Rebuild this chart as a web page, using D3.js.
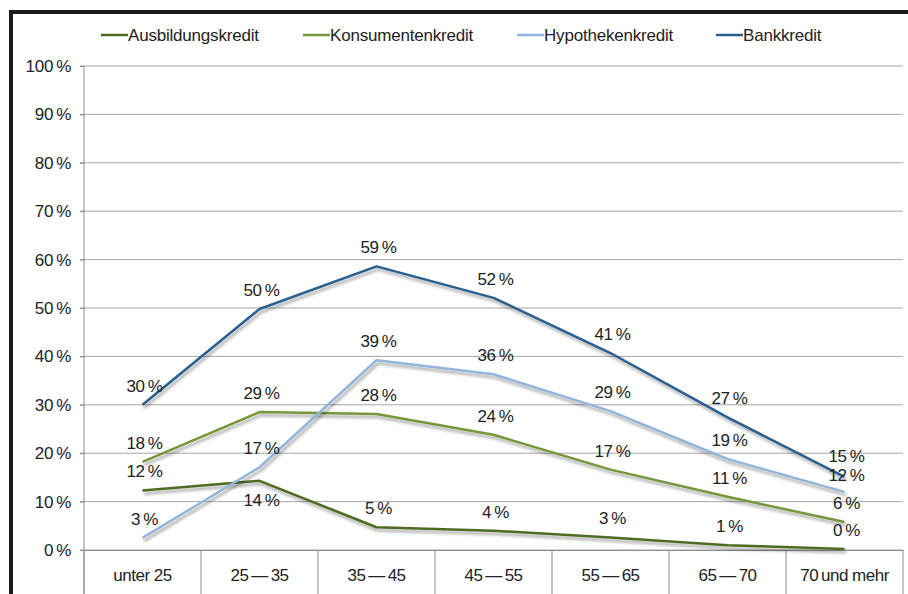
<!DOCTYPE html>
<html>
<head>
<meta charset="utf-8">
<script src="https://cdn.jsdelivr.net/npm/d3@7"></script>
<style>
  html, body { margin: 0; background: #fff; overflow: hidden; }
  svg { display: block; }
  text { font-family: "Liberation Sans", Arial, sans-serif; fill: #222; }
</style>
</head>
<body>
<svg id="canvas"></svg>
<script>
let width = 908,
height = 594

// data
let categories = ['unter 25', '25\u2009\u2014\u200935', '35\u2009\u2014\u200945', '45\u2009\u2014\u200955', '55\u2009\u2014\u200965', '65\u2009\u2014\u200970', '70\u2009und mehr']
let seriesNames = ['Ausbildungskredit', 'Konsumentenkredit', 'Hypothekenkredit', 'Bankkredit']
let ausbildung = [12.3, 14.3, 4.7, 4.0, 2.6, 1.0, 0.2]
let konsument = [18.2, 28.5, 28.1, 23.8, 16.6, 11.0, 5.8]
let hypothek = [2.5, 17.1, 39.2, 36.3, 28.7, 18.8, 12.0]
let bank = [30.0, 49.8, 58.6, 52.1, 40.7, 27.4, 15.1]
let yTicks = [0, 10, 20, 30, 40, 50, 60, 70, 80, 90, 100]
let colors = ['#4f6a22', '#77963a', '#93b5d9', '#2a5e8f']

let allSeries = [ausbildung, konsument, hypothek, bank]

let fontSize = '17px'

let canvas = d3.select('#canvas')
.attr('width', width)
.attr('height', height)

let defs = canvas.append('defs')
let shadow = defs.append('filter').attr('id', 'shadow')
.attr('x', '-10%').attr('y', '-10%').attr('width', '120%').attr('height', '130%')
shadow.append('feDropShadow')
.attr('dx', 1.5).attr('dy', 3).attr('stdDeviation', 1.6)
.attr('flood-color', '#000').attr('flood-opacity', 0.35)

// outer frame, only left and top edges are in view
canvas.append('path')
.attr('d', 'M11,600V12H920')
.attr('fill', 'none')
.attr('stroke', '#1a1a1a')
.attr('stroke-width', 4)

let x = d3.scaleBand().domain(categories).range([84, 903])
let y = d3.scaleLinear().domain([0, 100]).range([550, 66])

// grid
canvas.append('g')
.selectAll('line')
.data(yTicks)
.join('line')
.attr('x1', 80).attr('x2', 903)
.attr('y1', d => y(d)).attr('y2', d => y(d))
.attr('stroke', '#a6a6a6')
.attr('stroke-width', 1)

// y axis
let yAxis = d3.axisLeft(y).tickValues(yTicks).tickSize(4).tickFormat(d => d + '\u2009%')
let gy = canvas.append('g').attr('transform', 'translate(84,0)').call(yAxis)
gy.select('.domain').attr('stroke', '#8c8c8c').attr('d', 'M0,66V594')
gy.selectAll('.tick line').attr('stroke', '#8c8c8c')
gy.selectAll('.tick text')
.attr('x', -13)
.style('font-size', fontSize)
.style('letter-spacing', '-0.3px')
.attr('fill', '#222')

// x axis
let xAxis = d3.axisBottom(x).tickSize(0)
let gx = canvas.append('g').attr('transform', 'translate(0,550)').call(xAxis)
gx.select('.domain').attr('stroke', '#8c8c8c')
gx.selectAll('.tick text')
.attr('y', 19)
.style('font-size', fontSize)
.style('letter-spacing', '-0.5px')
.attr('fill', '#222')

// category separators
canvas.append('g')
.selectAll('line')
.data(categories.map(c => x(c)).concat([x.range()[1]]))
.join('line')
.attr('x1', d => d).attr('x2', d => d)
.attr('y1', 550).attr('y2', 594)
.attr('stroke', '#8c8c8c')

let cx = c => x(c) + x.bandwidth() / 2

let line = d3.line()
.x((d, i) => cx(categories[i]))
.y(d => y(d))

canvas.append('g')
.selectAll('path')
.data(allSeries)
.join('path')
.attr('d', line)
.attr('fill', 'none')
.attr('stroke', (d, i) => colors[i])
.attr('stroke-width', 2.5)
.attr('stroke-linejoin', 'round')
.attr('filter', 'url(#shadow)')

// data labels
let labelData = []
allSeries.forEach((s, si) => {
    s.forEach((v, i) => {
        labelData.push({ si: si, i: i, v: v })
    })
})

// label offset: most sit above the point, 14 % sits below, last two nudged apart
let labelDy = d => {
    if (d.si === 0 && d.i === 1) return 25
    if (d.si === 3 && d.i === 6) return -15
    if (d.si === 2 && d.i === 6) return -11
    return -13
}

canvas.append('g')
.selectAll('text')
.data(labelData)
.join('text')
.attr('x', d => cx(categories[d.i]) + 2)
.attr('y', d => y(d.v) + labelDy(d))
.attr('text-anchor', 'middle')
.style('font-size', fontSize)
.style('letter-spacing', '-0.3px')
.text(d => Math.round(d.v) + '\u2009%')

// legend
let legendX = [101, 303, 517, 716]
let legend = canvas.append('g')
.selectAll('g')
.data(seriesNames)
.join('g')
.attr('transform', (d, i) => `translate(${legendX[i]},35)`)

legend.append('line')
.attr('x1', 0).attr('x2', 27)
.attr('stroke', (d, i) => colors[i])
.attr('stroke-width', 2.5)

legend.append('text')
.attr('x', 27)
.attr('y', 6)
.style('font-size', fontSize)
.style('letter-spacing', '-0.2px')
.text(d => d)
</script>
</body>
</html>
